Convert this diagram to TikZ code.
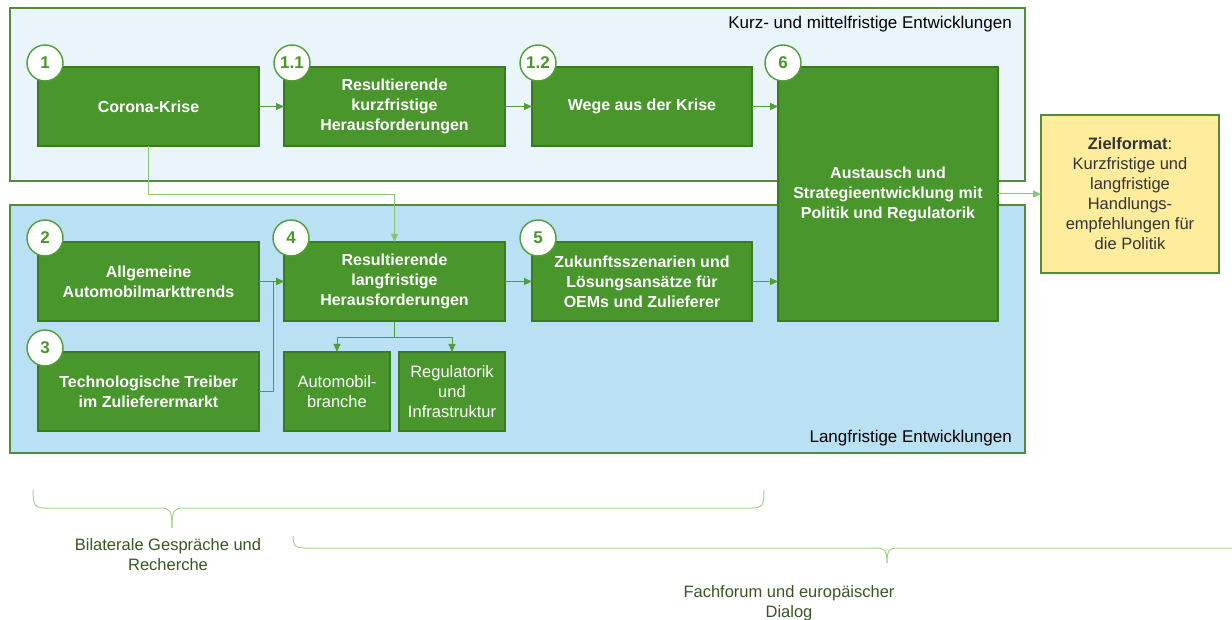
\documentclass[tikz,border=0pt]{standalone}
\usepackage{fontspec}
\setmainfont{Liberation Sans}
\usetikzlibrary{arrows.meta,calc}
\definecolor{gfill}{RGB}{73,150,44}
\definecolor{gdraw}{RGB}{58,122,32}
\definecolor{pborder}{RGB}{84,140,60}
\definecolor{ptop}{RGB}{234,245,251}
\definecolor{pbot}{RGB}{185,224,243}
\definecolor{zfill}{RGB}{255,236,156}
\definecolor{arrg}{RGB}{80,158,56}
\definecolor{arrl}{RGB}{140,196,118}
\definecolor{bracec}{RGB}{169,209,142}
\definecolor{txtg}{RGB}{56,86,35}
\definecolor{txtd}{RGB}{51,51,51}
\tikzset{
  panel/.style={draw=pborder,line width=1.4pt,inner sep=0pt,outer sep=0pt},
  gbox/.style={draw=gdraw,fill=gfill,line width=1.4pt,inner sep=0pt,outer sep=0pt,
    text=white,align=center,font=\fontsize{16}{20}\selectfont\bfseries},
  gboxr/.style={gbox,font=\fontsize{16.5}{20}\selectfont},
  numc/.style={circle,draw=arrg,fill=white,line width=1.4pt,minimum size=36pt,inner sep=0pt,
    text=gfill,font=\fontsize{17}{18}\selectfont\bfseries},
  arr/.style={draw=arrg,line width=0.9pt,-{Triangle[length=8pt,width=7pt]}},
  arrlt/.style={draw=arrl,line width=1pt,-{Triangle[length=8pt,width=7pt]}},
  brace/.style={draw=bracec,line width=1pt},
  plabel/.style={font=\fontsize{17}{20}\selectfont,text=black,inner sep=0pt},
  btext/.style={font=\fontsize{16.5}{20}\selectfont,text=txtg,align=center,inner sep=0pt}
}
\begin{document}
\begin{tikzpicture}[x=1pt,y=-1pt]
\useasboundingbox (0,0) rectangle (1232,620);
% panels
\node[panel,fill=ptop,minimum width=1015pt,minimum height=173pt] (ptop) at (517.5,94.5) {};
\node[panel,fill=pbot,minimum width=1015pt,minimum height=248pt] (pbot) at (517.5,329) {};
\node[plabel,anchor=east] (lt) at (1012,24) {Kurz- und mittelfristige Entwicklungen};
\node[plabel,anchor=east] (lb) at (1012,438) {Langfristige Entwicklungen};
% boxes
\node[gbox,minimum width=221pt,minimum height=79pt] (b1) at (148.5,106.5) {Corona-Krise};
\node[gbox,minimum width=221pt,minimum height=79pt] (b11) at (394.5,106.5) {Resultierende\\kurzfristige\\Herausforderungen};
\node[gbox,minimum width=220pt,minimum height=79pt] (b12) at (642,106.5) {Wege aus der Krise};
\node[gbox,minimum width=220pt,minimum height=254pt] (b6) at (888,194) {Austausch und\\Strategieentwicklung mit\\Politik und Regulatorik};
\node[gbox,minimum width=221pt,minimum height=79pt] (b2) at (148.5,281.5) {Allgemeine\\Automobilmarkttrends};
\node[gbox,minimum width=221pt,minimum height=79pt] (b4) at (394.5,281.5) {Resultierende\\langfristige\\Herausforderungen};
\node[gbox,minimum width=220pt,minimum height=79pt] (b5) at (642,281.5) {Zukunftsszenarien und\\Lösungsansätze für\\OEMs und Zulieferer};
\node[gbox,minimum width=221pt,minimum height=79pt] (b3) at (148.5,391.5) {Technologische Treiber\\im Zulieferermarkt};
\node[gboxr,minimum width=106pt,minimum height=79pt] (ba) at (337,391.5) {Automobil-\\branche};
\node[gboxr,minimum width=106pt,minimum height=79pt] (br) at (452,391.5) {Regulatorik\\und\\Infrastruktur};
\node[draw=pborder,fill=zfill,line width=1.4pt,minimum width=178pt,minimum height=158pt,inner sep=0pt,outer sep=0pt,
  align=center,text=txtd,font=\fontsize{16.5}{20}\selectfont] (z) at (1130,194)
  {\textbf{Zielformat}:\\Kurzfristige und\\langfristige\\Handlungs-\\empfehlungen für\\die Politik};
% number circles
\node[numc] (c1) at ($(b1.north west)+(7,-4)$) {1};
\node[numc] (c11) at ($(b11.north west)+(8,-4)$) {1.1};
\node[numc] (c12) at ($(b12.north west)+(6,-4)$) {1.2};
\node[numc] (c6) at ($(b6.north west)+(5,-4)$) {6};
\node[numc] (c2) at ($(b2.north west)+(7,-4)$) {2};
\node[numc] (c4) at ($(b4.north west)+(7,-4)$) {4};
\node[numc] (c5) at ($(b5.north west)+(6,-4)$) {5};
\node[numc] (c3) at ($(b3.north west)+(7,-4)$) {3};
% connectors
\draw[arr] (b1) -- (b11);
\draw[arr] (b11) -- (b12);
\draw[arr] (b12.east) -- (b12.east -| b6.west);
\draw[arr] (b2.east) -- (b4.west);
\coordinate (j3) at (273,281.5);
\draw[arr] (b3.east) -| (j3) -- (b4.west);
\draw[arr] (b4) -- (b5);
\draw[arr] (b5.east) -- (b5.east -| b6.west);
\coordinate (cc) at (394.5,195);
\draw[arrlt] (b1.south) |- (cc) -- (b4.north);
\coordinate (sp) at (394.5,337);
\draw[arr] (b4.south) -- (sp) -| (ba.north);
\draw[arr] (sp) -| (br.north);
\draw[arrlt] (b6.east) -- (z.west);
% braces
\draw[brace] (33,490) .. controls (33,506) and (35,508) .. (45,508) -- (160,508)
  .. controls (170,508) and (172,510) .. (172,528);
\draw[brace] (172,528) .. controls (172,510) and (174,508) .. (184,508) -- (752,508)
  .. controls (762,508) and (764,506) .. (764,490);
\draw[brace] (293,536) .. controls (293,546) and (295,548) .. (305,548) -- (875,548)
  .. controls (885,548) and (887,550) .. (887,563);
\draw[brace] (887,563) .. controls (887,550) and (889,548) .. (899,548) -- (1232,548);
% bottom texts
\node[btext] (t1) at (168,555) {Bilaterale Gespräche und\\Recherche};
\node[btext] (t2) at (789,603) {Fachforum und europäischer\\Dialog};
\end{tikzpicture}
\end{document}
